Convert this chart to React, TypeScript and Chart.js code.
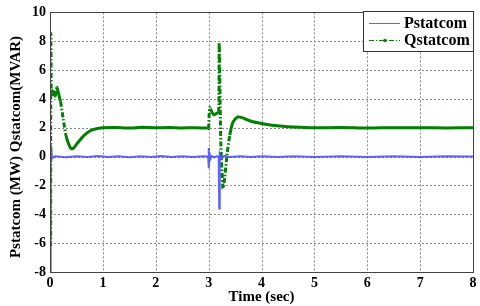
import React, { useEffect, useRef } from "react";
import { Chart, registerables } from "chart.js";
Chart.register(...registerables);

const seriesNames = ["Pstatcom", "Qstatcom"];
const yAxisTitle = "Pstatcom (MW) Qstatcom(MVAR)";
const xAxisTitle = "Time (sec)";
const xTickValues = [0, 1, 2, 3, 4, 5, 6, 7, 8];
const yTickValues = [-8, -6, -4, -2, 0, 2, 4, 6, 8, 10];

const pTime = [0.005, 0.01, 0.016, 0.025, 0.04, 0.06, 0.1, 0.3, 0.5, 0.7, 0.9, 1.1, 1.3, 1.5, 1.7, 1.9, 2.1, 2.3, 2.5, 2.7, 2.9, 2.99, 3.0, 3.006, 3.015, 3.03, 3.06, 3.1, 3.15, 3.19, 3.2, 3.206, 3.215, 3.25, 3.3, 3.4, 3.6, 3.8, 4.0, 4.3, 4.6, 5.0, 5.5, 6.0, 6.5, 7.0, 7.5, 8.0];
const pValues = [-8, 0.2, 0.3, 0.5, -0.1, -0.05, 0.03, -0.04, 0.02, -0.03, 0.04, -0.02, 0.03, -0.04, 0.02, -0.03, 0.04, -0.02, 0.03, -0.03, 0.02, 0, 0.6, -0.8, 0.3, -0.2, 0.05, -0.05, 0.02, 0, -3.6, -0.6, 0.2, -0.1, 0.05, -0.03, 0.03, -0.02, 0.02, -0.03, 0.02, -0.02, 0.03, -0.02, 0.02, -0.03, 0.02, 0];

const qTime = [0.012, 0.016, 0.025, 0.04, 0.06, 0.08, 0.1, 0.13, 0.16, 0.2, 0.25, 0.3, 0.35, 0.4, 0.45, 0.5, 0.6, 0.7, 0.8, 0.9, 1.0, 1.25, 1.5, 1.75, 2.0, 2.25, 2.5, 2.75, 2.99, 3.0, 3.02, 3.06, 3.1, 3.15, 3.19, 3.2, 3.23, 3.27, 3.3, 3.35, 3.4, 3.45, 3.5, 3.55, 3.62, 3.7, 3.8, 4.0, 4.2, 4.4, 4.6, 5.0, 5.5, 6.0, 6.5, 7.0, 7.5, 8.0];
const qValues = [-6.2, 8.5, 4.3, 4.6, 4.3, 4.5, 4.2, 4.8, 4.4, 3.8, 2.6, 1.5, 0.9, 0.55, 0.6, 0.85, 1.3, 1.65, 1.85, 1.95, 2.0, 2.02, 1.98, 2.03, 2.0, 2.02, 1.99, 2.01, 1.98, 1.95, 3.4, 3.1, 2.9, 3.0, 3.1, 7.9, 1.0, -2.2, -1.6, 0.2, 1.5, 2.3, 2.6, 2.75, 2.72, 2.6, 2.45, 2.3, 2.18, 2.1, 2.05, 2.0, 2.02, 1.98, 2.01, 2.0, 1.99, 2.0];

const FONT = '"Liberation Serif", "Times New Roman", serif';
const BLUE = "rgba(70,70,255,0.85)";
const GREEN = "#008000";

const gridPlugin = {
  id: "dottedGrid",
  beforeDatasetsDraw(chart: any) {
    const { ctx, chartArea, scales } = chart;
    const { left, top, right, bottom } = chartArea;
    ctx.save();
    ctx.strokeStyle = "#8a8a8a";
    ctx.lineWidth = 1;
    ctx.setLineDash([2, 2]);
    xTickValues.forEach((v) => {
      const x = Math.round(scales.x.getPixelForValue(v)) + 0.5;
      ctx.beginPath();
      ctx.moveTo(x, top);
      ctx.lineTo(x, bottom);
      ctx.stroke();
    });
    yTickValues.forEach((v) => {
      const y = Math.round(scales.y.getPixelForValue(v)) + 0.5;
      ctx.beginPath();
      ctx.moveTo(left, y);
      ctx.lineTo(right, y);
      ctx.stroke();
    });
    ctx.restore();
  },
};

const frameAndLegend = {
  id: "frameAndLegend",
  afterDraw(chart: any) {
    const { ctx, chartArea } = chart;
    const { left, top, right, bottom } = chartArea;
    ctx.save();
    ctx.strokeStyle = "#444";
    ctx.lineWidth = 1;
    ctx.setLineDash([]);
    ctx.strokeRect(Math.round(left) + 0.5, Math.round(top) + 0.5, Math.round(right - left), Math.round(bottom - top));
    // y title
    ctx.save();
    ctx.translate(16, 147);
    ctx.rotate(-Math.PI / 2);
    ctx.font = `bold 15px ${FONT}`;
    ctx.textAlign = "center";
    ctx.textBaseline = "middle";
    ctx.fillStyle = "#000";
    ctx.fillText(yAxisTitle, 0, 0);
    ctx.restore();
    // legend
    const lx = Math.round(right) - 110;
    const ly = Math.round(top) - 1;
    ctx.fillStyle = "#fff";
    ctx.fillRect(lx + 0.5, ly + 0.5, 110, 40);
    ctx.strokeStyle = "#333";
    ctx.strokeRect(lx + 0.5, ly + 0.5, 110, 40);
    ctx.font = `bold 16px ${FONT}`;
    ctx.textBaseline = "middle";
    ctx.fillStyle = "#000";
    ctx.strokeStyle = BLUE;
    ctx.beginPath();
    ctx.moveTo(lx + 6, ly + 12.5);
    ctx.lineTo(lx + 37, ly + 12.5);
    ctx.stroke();
    ctx.fillText(seriesNames[0], lx + 41, ly + 13);
    ctx.strokeStyle = GREEN;
    ctx.lineWidth = 1.2;
    ctx.setLineDash([5, 2, 1, 2]);
    ctx.beginPath();
    ctx.moveTo(lx + 6, ly + 29.5);
    ctx.lineTo(lx + 37, ly + 29.5);
    ctx.stroke();
    ctx.setLineDash([]);
    ctx.fillStyle = GREEN;
    ctx.beginPath();
    ctx.arc(lx + 22, ly + 29.5, 1.8, 0, Math.PI * 2);
    ctx.fill();
    ctx.fillStyle = "#000";
    ctx.fillText(seriesNames[1], lx + 41, ly + 30);
    ctx.restore();
  },
};

export default function App() {
  const ref = useRef<HTMLCanvasElement>(null);
  useEffect(() => {
    document.body.style.margin = "0";
    const steepDash = (c: any) => {
      const dx = Math.abs(c.p1.x - c.p0.x);
      const dy = Math.abs(c.p1.y - c.p0.y);
      return dy > 5 * dx ? [5, 2, 1.5, 2] : undefined;
    };
    const chart = new Chart(ref.current!, {
      type: "line",
      data: {
        datasets: [
          {
            label: seriesNames[0],
            data: pTime.map((t, i) => ({ x: t, y: pValues[i] })),
            borderColor: BLUE,
            borderWidth: 2,
            pointRadius: 0,
            tension: 0,
          },
          {
            label: seriesNames[1],
            data: qTime.map((t, i) => ({ x: t, y: qValues[i] })),
            borderColor: GREEN,
            borderWidth: 3,
            pointRadius: 0,
            tension: 0.2,
            segment: { borderDash: steepDash },
          },
        ],
      },
      options: {
        animation: false,
        responsive: false,
        layout: { padding: { top: 10, right: 7, left: 0, bottom: 0 } },
        plugins: { legend: { display: false }, tooltip: { enabled: false } },
        scales: {
          x: {
            type: "linear",
            min: 0,
            max: 8,
            afterBuildTicks: (s: any) => { s.ticks = xTickValues.map((v) => ({ value: v })); },
            afterFit: (s: any) => { s.height = 34; },
            grid: { display: false, drawTicks: false, tickLength: 0 },
            border: { display: false },
            ticks: { font: { family: FONT, size: 14, weight: "bold" }, color: "#000", padding: 3 },
            title: { display: true, text: xAxisTitle, font: { family: FONT, size: 15, weight: "bold" }, color: "#000", padding: { top: 0, bottom: 0 } },
          },
          y: {
            type: "linear",
            min: -8,
            max: 10,
            afterBuildTicks: (s: any) => { s.ticks = yTickValues.map((v) => ({ value: v })); },
            afterFit: (s: any) => { s.width = 50; },
            grid: { display: false, drawTicks: false, tickLength: 0 },
            border: { display: false },
            ticks: { font: { family: FONT, size: 14, weight: "bold" }, color: "#000", padding: 4 },
          },
        },
      },
      plugins: [gridPlugin, frameAndLegend],
    });
    return () => chart.destroy();
  }, []);
  return (
    <div style={{ position: "fixed", left: 0, top: 0, width: 480, height: 306, background: "#fff" }}>
      <canvas ref={ref} width={480} height={306} />
    </div>
  );
}
